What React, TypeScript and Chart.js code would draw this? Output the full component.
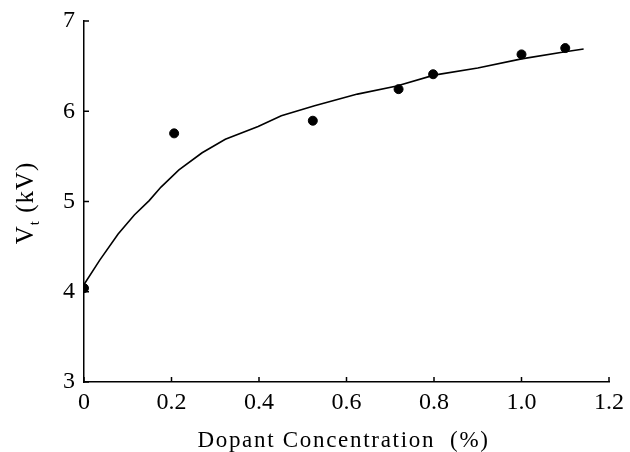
import React, { useEffect, useRef } from "react";
import { Chart, registerables } from "chart.js";

Chart.register(...registerables);

const pointX = [0, 0.206, 0.523, 0.719, 0.798, 1.0, 1.1];
const pointY = [4.04, 5.755, 5.895, 6.245, 6.41, 6.63, 6.7];
const fitX = [0, 0.036, 0.078, 0.115, 0.149, 0.176, 0.217, 0.27, 0.323, 0.398, 0.451, 0.527, 0.625, 0.715, 0.8, 0.9, 1.0, 1.1, 1.142];
const fitY = [4.08, 4.35, 4.64, 4.85, 5.01, 5.16, 5.35, 5.54, 5.69, 5.83, 5.95, 6.06, 6.19, 6.28, 6.4, 6.48, 6.58, 6.66, 6.69];
const xTicks = [0, 0.2, 0.4, 0.6, 0.8, 1.0, 1.2];
const yTicks = [3, 4, 5, 6, 7];
const xTitle = "Dopant Concentration  (%)";
const yTitleMain = "V";
const yTitleSub = "t";
const yTitleRest = " (kV)";

const FONT = "'Liberation Serif', 'DejaVu Serif', serif";

const decorPlugin = {
  id: "decor",
  afterDraw(chart: any) {
    const ctx = chart.ctx;
    const xs = chart.scales.x;
    const ys = chart.scales.y;
    const area = chart.chartArea;
    ctx.save();
    ctx.strokeStyle = "#000";
    ctx.lineWidth = 1.5;
    yTicks.forEach((v) => {
      const py = ys.getPixelForValue(v);
      ctx.beginPath();
      ctx.moveTo(area.left, py);
      ctx.lineTo(area.left + 5, py);
      ctx.stroke();
    });
    xTicks.forEach((v) => {
      const px = xs.getPixelForValue(v);
      ctx.beginPath();
      ctx.moveTo(px, area.bottom);
      ctx.lineTo(px, area.bottom - 5);
      ctx.stroke();
    });
    ctx.restore();

    // x title
    ctx.save();
    ctx.fillStyle = "#000";
    ctx.font = "23px " + FONT;
    (ctx as any).letterSpacing = "1.7px";
    ctx.textAlign = "center";
    ctx.textBaseline = "alphabetic";
    ctx.fillText(xTitle, (area.left + area.right) / 2 - 3, 447);
    ctx.restore();

    // y title with subscript
    ctx.save();
    ctx.fillStyle = "#000";
    ctx.translate(33, 203);
    ctx.rotate(-Math.PI / 2);
    ctx.textBaseline = "alphabetic";
    ctx.textAlign = "left";
    (ctx as any).letterSpacing = "1px";
    const big = "25px " + FONT;
    const small = "15px " + FONT;
    ctx.font = big;
    const w1 = ctx.measureText(yTitleMain).width;
    const w3 = ctx.measureText(yTitleRest).width;
    ctx.font = small;
    const w2 = ctx.measureText(yTitleSub).width;
    const total = w1 + w2 + w3;
    let x0 = -total / 2;
    ctx.font = big;
    ctx.fillText(yTitleMain, x0, 0);
    x0 += w1;
    ctx.font = small;
    ctx.fillText(yTitleSub, x0, 6);
    x0 += w2;
    ctx.font = big;
    ctx.fillText(yTitleRest, x0, 0);
    ctx.restore();
  },
};

export default function App() {
  const ref = useRef<HTMLCanvasElement | null>(null);
  useEffect(() => {
    document.body.style.margin = "0";
    const canvas = ref.current;
    if (!canvas) return;
    const chart = new Chart(canvas, {
      type: "scatter",
      data: {
        datasets: [
          {
            type: "line",
            label: "fit",
            data: fitX.map((x, i) => ({ x, y: fitY[i] })),
            borderColor: "#000",
            borderWidth: 1.6,
            pointRadius: 0,
            fill: false,
            tension: 0,
          } as any,
          {
            label: "data",
            data: pointX.map((x, i) => ({ x, y: pointY[i] })),
            backgroundColor: "#000",
            borderColor: "#000",
            pointRadius: 4.5,
            pointStyle: "circle",
          },
        ],
      },
      options: {
        responsive: false,
        animation: false,
        layout: { padding: { left: 0, right: 16, top: 12, bottom: 0 } },
        plugins: {
          legend: { display: false },
          tooltip: { enabled: false },
        },
        scales: {
          x: {
            type: "linear",
            min: 0,
            max: 1.2,
            afterBuildTicks: (s: any) => {
              s.ticks = xTicks.map((v) => ({ value: v }));
            },
            afterFit: (s: any) => {
              s.height = 70;
            },
            ticks: {
              color: "#000",
              font: { family: FONT, size: 24 },
              padding: 6,
              maxRotation: 0,
              callback: (v: any) => (Number(v) === 0 ? "0" : Number(v).toFixed(1)),
            },
            grid: { display: false, tickLength: 0 },
            border: { display: true, color: "#000", width: 1.5 },
          },
          y: {
            type: "linear",
            min: 3,
            max: 7,
            afterBuildTicks: (s: any) => {
              s.ticks = yTicks.map((v) => ({ value: v }));
            },
            afterFit: (s: any) => {
              s.width = 84;
            },
            ticks: {
              color: "#000",
              font: { family: FONT, size: 24, lineHeight: 1.0 },
              padding: 9,
              callback: (v: any) => String(v),
            },
            grid: { display: false, tickLength: 0 },
            border: { display: true, color: "#000", width: 1.5 },
          },
        },
      },
      plugins: [decorPlugin],
    } as any);
    return () => chart.destroy();
  }, []);
  return (
    <div style={{ position: "fixed", left: 0, top: 0, width: 630, height: 452, background: "#fff" }}>
      <canvas ref={ref} width={630} height={452} />
    </div>
  );
}
